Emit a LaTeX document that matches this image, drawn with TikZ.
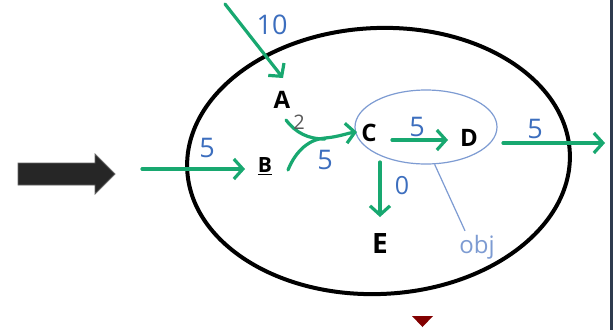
\documentclass[tikz,border=0pt]{standalone}
\usepackage{fontspec}
\setmainfont{Open Sans}
\usetikzlibrary{arrows.meta,calc,shapes.geometric}
\definecolor{flowgreen}{RGB}{24,168,112}
\definecolor{labelblue}{RGB}{60,110,190}
\definecolor{lightblue}{RGB}{125,155,210}
\definecolor{borderblue}{RGB}{46,59,78}
\definecolor{darkred}{RGB}{130,0,0}
\tikzset{
  letter/.style={inner sep=0pt, font=\fontsize{24}{24}\selectfont\bfseries},
  qty/.style={inner sep=0pt, text=labelblue, font=\fontsize{27}{27}\selectfont},
  flow/.style={color=flowgreen, line width=3.2pt, line cap=round, -{Straight Barb[length=9pt,width=20pt,line width=3.2pt]}},
  flowplain/.style={color=flowgreen, line width=3.2pt, line cap=round},
}
\begin{document}
\begin{tikzpicture}[x=1pt,y=-1pt]
\useasboundingbox (0,0) rectangle (613,330);
\fill[white] (0,0) rectangle (613,330);
% right border
\fill[borderblue] (610,0) rectangle (613,330);
% system ellipse
\draw[line width=4pt] (378.5,161) ellipse [x radius=191.5, y radius=133, rotate=2.5];
% block arrow
\filldraw[fill=black!85, draw=black!60, line width=0.8pt]
  (18,163) -- (95,163) -- (95,154) -- (115,174) -- (95,194) -- (95,185) -- (18,185) -- cycle;
% red triangle
\fill[darkred] (412,316) -- (433,316) -- (422.5,327) -- cycle;
% letters
\node[letter] (A) at (282,100) {A};
\node[letter, font=\fontsize{21}{21}\selectfont\bfseries] (B) at (265,166) {\underline{B}};
\node[letter] (C) at (369,133) {C};
\node[letter] (D) at (469,138) {D};
\node[letter, font=\fontsize{28}{28}\selectfont\bfseries] (E) at (380,243) {E};
% object ellipse
\node[draw=lightblue, line width=1.2pt, ellipse, minimum width=142pt, minimum height=74pt, inner sep=0pt] (grp) at (426,127) {};
% free ends
\coordinate (s10) at (225,4);
\coordinate (sB) at (142,169);
\coordinate (dOut) at (605,143);
% flows
\draw[flow] (s10) -- ($(A)+(1,-22)$);
\draw[flow] (sB) -- ($(B)+(-20,3)$);
\draw[flowplain] ($(A)+(4,20)$) .. controls ($(A)+(14,33)$) and ($(A)+(26,39)$) .. ($(A)+(43,39)$);
\draw[flow] ($(B)+(23,4)$) .. controls ($(B)+(31,-16)$) and ($(B)+(45,-27)$) .. ($(B)+(60,-28)$)
  .. controls ($(B)+(73,-29)$) and ($(B)+(83,-33)$) .. ($(C)+(-12,-1)$);
\draw[flow] ($(C)+(23,7)$) -- ($(D)+(-21,2)$);
\draw[flow] ($(D)+(34,5)$) -- (dOut);
\draw[flow] ($(C)+(11,29)$) -- ($(E)+(0,-26)$);
% object pointer
\node[inner sep=0pt, text=lightblue, font=\fontsize{24}{24}\selectfont] (objl) at (477,247) {obj};
\draw[lightblue, line width=1.2pt] (grp.-77) -- ($(objl.north)+(-12,-4)$);
% quantities
\node[qty] (q10) at (272,25) {10};
\node[qty] (qB) at (207,148) {5};
\node[inner sep=0pt, text=black!65, font=\fontsize{20}{20}\selectfont] (q2) at (299,122) {2};
\node[qty] (qAB) at (325,160) {5};
\node[qty] (qCD) at (417,127) {5};
\node[qty] (qD) at (535,129) {5};
\node[qty, font=\fontsize{25}{25}\selectfont] (q0) at (402,186) {0};
\end{tikzpicture}
\end{document}
